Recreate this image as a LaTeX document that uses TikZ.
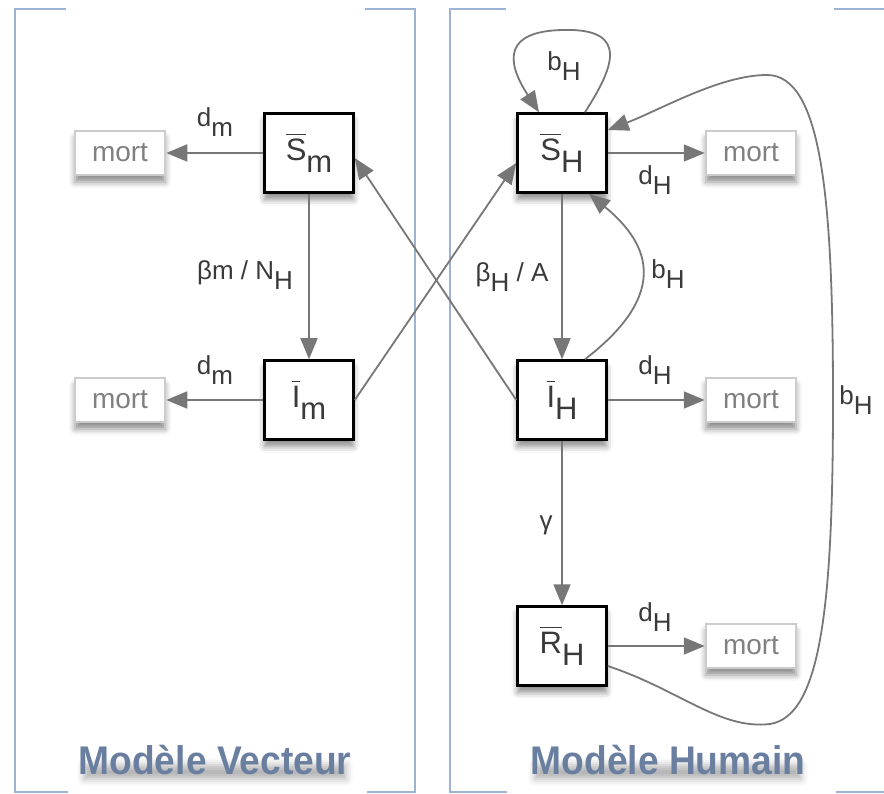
\documentclass[tikz,border=0pt]{standalone}
\usepackage{fontspec}
\setmainfont{Liberation Sans}
\newfontfamily\titlefont[FakeStretch=0.93]{Liberation Sans}
\usetikzlibrary{arrows.meta,shadows.blur}
\definecolor{arr}{HTML}{777777}
\definecolor{labc}{HTML}{3A3A3A}
\definecolor{mortb}{HTML}{CCCCCC}
\definecolor{mortt}{HTML}{808080}
\definecolor{panel}{HTML}{9DB3D3}
\definecolor{titlec}{HTML}{6A7FA0}
\newcommand\sbx[1]{\raisebox{-0.38em}{#1}}
\newcommand\ovl[1]{\hbox{\vbox{\hrule height 1.6pt\kern 3.5pt\hbox{#1}}}}
\begin{document}
\begin{tikzpicture}[x=1pt,y=-1pt,
  state/.style={draw=black, line width=2.5pt, fill=white, minimum width=89pt, minimum height=79pt, inner sep=0pt, text=labc, font=\fontsize{31}{33}\selectfont, blur shadow={shadow xshift=0pt, shadow yshift=-7pt, shadow blur radius=6pt, shadow opacity=45}},
  mortbox/.style={draw=mortb, line width=2.5pt, fill=white, minimum width=90pt, minimum height=44pt, inner sep=0pt, text=mortt, font=\fontsize{28}{30}\selectfont, blur shadow={shadow xshift=0pt, shadow yshift=-7pt, shadow blur radius=6pt, shadow opacity=45}},
  flow/.style={draw=arr, line width=1.8pt, -{Triangle[length=21pt,width=17pt]}},
  lab/.style={text=labc, font=\fontsize{26}{28}\selectfont, inner sep=0pt},
  frame/.style={draw=panel, line width=1.8pt},
  ttl/.style={font=\titlefont\bfseries\fontsize{40}{42}\selectfont, inner sep=0pt},
  smear/.style={draw=none, fill=none, minimum width=#1, minimum height=14pt, inner sep=0pt, blur shadow={shadow xshift=0pt, shadow yshift=0pt, shadow blur radius=7pt, shadow opacity=30}}
]
\useasboundingbox (0,0) rectangle (884,794);
% panels
\draw[frame] (66,9) -- (15,9) -- (15,792) -- (68,792);
\draw[frame] (365,9) -- (415,9) -- (415,792) -- (367,792);
\draw[frame] (506,9) -- (450,9) -- (450,792) -- (507,792);
\draw[frame] (834,9) -- (884,9);
\draw[frame] (836,792) -- (884,792);
% nodes
\node[state] (Sm) at (309,153) {\ovl{S}\sbx{m}};
\node[state] (Im) at (309,400) {\ovl{I}\sbx{m}};
\node[state] (SH) at (562,153) {\ovl{S}\sbx{H}};
\node[state] (IH) at (562,400) {\ovl{I}\sbx{H}};
\node[state] (RH) at (562,646) {\ovl{R}\sbx{H}};
\node[mortbox] (m1) at (120,153) {mort};
\node[mortbox] (m2) at (120,400) {mort};
\node[mortbox] (m3) at (751,153) {mort};
\node[mortbox] (m4) at (751,400) {mort};
\node[mortbox] (m5) at (751,646) {mort};
% edges
\draw[flow] (Sm) -- (m1);
\draw[flow] (Im) -- (m2);
\draw[flow] (Sm) -- (Im);
\draw[flow] (Im.east) -- ([yshift=-10pt]SH.west);
\draw[flow] (IH.west) -- ([yshift=-5pt]Sm.east);
\draw[flow] (SH) -- (m3);
\draw[flow] (IH) -- (m4);
\draw[flow] (RH) -- (m5);
\draw[flow] (SH) -- (IH);
\draw[flow] (IH) -- (RH);
\draw[flow] ([xshift=23pt]IH.north) .. controls (675,290) and (645,240) .. ([xshift=27pt]SH.south);
\draw[flow] ([xshift=23pt]SH.north) .. controls (612,70) and (632,28) .. (563,30) .. controls (505,31) and (505,60) .. ([xshift=-23pt]SH.north);
\draw[flow] ([yshift=-20pt]RH.east) .. controls (680,690) and (720,730) .. (770,724) .. controls (822,716) and (833,600) .. (833,400) .. controls (833,200) and (822,75) .. (767,75) .. controls (720,75) and (660,110) .. ([yshift=23pt]SH.east);
% labels
\node[lab] (l1) at (215,122) {d\sbx{m}};
\node[lab] (l2) at (215,370) {d\sbx{m}};
\node[lab] (l3) at (245,275) {βm / N\sbx{H}};
\node[lab] (l4) at (512,277) {β\sbx{H} / A};
\node[lab] (l5) at (668,274) {b\sbx{H}};
\node[lab] (l6) at (655,180) {d\sbx{H}};
\node[lab] (l7) at (655,370) {d\sbx{H}};
\node[lab] (l8) at (655,617) {d\sbx{H}};
\node[lab] (l9) at (546,525) {γ};
\node[lab] (l10) at (564,66) {b\sbx{H}};
\node[lab] (l11) at (856,400) {b\sbx{H}};
% titles
\node[smear=262pt] (s1) at (215,772) {};
\node[smear=266pt] (s2) at (668,772) {};
\node[ttl, text=titlec] (t1) at (215,760) {Modèle Vecteur};
\node[ttl, text=titlec] (t2) at (668,760) {Modèle Humain};
\end{tikzpicture}
\end{document}
